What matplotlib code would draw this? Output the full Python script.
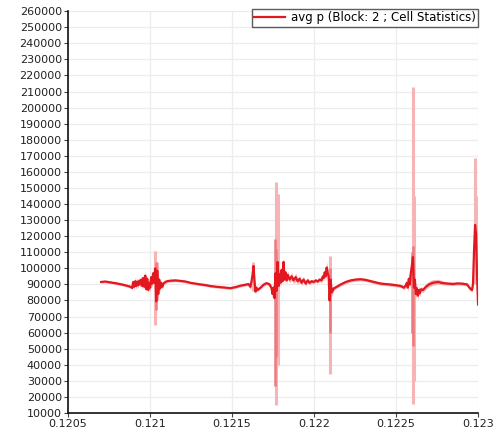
import numpy as np
import matplotlib.pyplot as plt

# cell statistics for block 2: time [s] and average pressure [Pa]
t = [0.120702, 0.120726, 0.120757, 0.120787, 0.120818, 0.120848, 0.120879, 0.120891,
     0.120897, 0.120903, 0.120910, 0.120916, 0.120922, 0.120928, 0.120934, 0.120940,
     0.120946, 0.120952, 0.120958, 0.120965, 0.120971, 0.120977, 0.120983, 0.120989,
     0.120995, 0.121001, 0.121007, 0.121013, 0.121020, 0.121026, 0.121032, 0.121038,
     0.121044, 0.121050, 0.121056, 0.121062, 0.121068, 0.121075, 0.121081, 0.121093,
     0.121105, 0.121123, 0.121154, 0.121185, 0.121215, 0.121246, 0.121276, 0.121307,
     0.121337, 0.121368, 0.121399, 0.121429, 0.121460, 0.121490, 0.121521, 0.121551,
     0.121582, 0.121600, 0.121612, 0.121619, 0.121625, 0.121631, 0.121637, 0.121643,
     0.121649, 0.121655, 0.121674, 0.121692, 0.121710, 0.121729, 0.121741, 0.121747,
     0.121753, 0.121759, 0.121765, 0.121771, 0.121778, 0.121784, 0.121790, 0.121796,
     0.121802, 0.121808, 0.121814, 0.121820, 0.121826, 0.121833, 0.121839, 0.121851,
     0.121863, 0.121875, 0.121888, 0.121900, 0.121912, 0.121924, 0.121936, 0.121949,
     0.121961, 0.121973, 0.121985, 0.121998, 0.122010, 0.122022, 0.122034, 0.122046,
     0.122053, 0.122059, 0.122065, 0.122071, 0.122077, 0.122083, 0.122089, 0.122095,
     0.122101, 0.122108, 0.122120, 0.122138, 0.122163, 0.122193, 0.122224, 0.122254,
     0.122285, 0.122315, 0.122346, 0.122377, 0.122407, 0.122438, 0.122468, 0.122499,
     0.122529, 0.122548, 0.122560, 0.122566, 0.122572, 0.122578, 0.122584, 0.122590,
     0.122597, 0.122603, 0.122609, 0.122615, 0.122621, 0.122627, 0.122633, 0.122639,
     0.122645, 0.122652, 0.122664, 0.122682, 0.122701, 0.122725, 0.122756, 0.122786,
     0.122817, 0.122847, 0.122878, 0.122908, 0.122933, 0.122951, 0.122963, 0.122969,
     0.122976, 0.122982, 0.122988, 0.122994, 0.123000]

p_avg = [91500, 91800, 91300, 90800, 90200, 89500, 88600, 87800,
         91500, 88500, 92000, 89000, 91800, 89500, 92300, 90000,
         93000, 89000, 94000, 88500, 95500, 87000, 93500, 86500,
         91000, 88000, 94500, 90500, 97000, 91000, 100000, 79500,
         98500, 84000, 93000, 87500, 91000, 88500, 90500, 91500,
         92000, 92300, 92500, 92200, 91800, 91000, 90500, 90000,
         89600, 89000, 88600, 88300, 88000, 87700, 88300, 89200,
         89800, 90200, 88500, 92000, 96000, 101500, 92000, 85500,
         88000, 86500, 88000, 89800, 90800, 90000, 87500, 84000,
         88000, 81500, 97000, 86000, 104000, 89000, 96500, 91000,
         99000, 92000, 104000, 93000, 97500, 92500, 96000, 93000,
         95000, 92500, 94500, 92000, 93500, 91000, 93000, 90500,
         92500, 91000, 92000, 91500, 92500, 91800, 93000, 92500,
         95000, 94000, 97500, 95000, 100500, 97000, 95000, 80000,
         93000, 85000, 87500, 88500, 90000, 91500, 92500, 93000,
         93200, 92800, 92000, 91200, 90500, 90200, 89900, 89500,
         89000, 88000, 89500, 91000, 88000, 93500, 90000, 97000,
         102000, 107000, 88000, 93000, 84000, 87500, 83000, 86500,
         84500, 87000, 86500, 88500, 90000, 91000, 91500, 90800,
         90500, 90300, 90600, 90400, 90000, 87500, 86500, 90000,
         112000, 127000, 121000, 95000, 77500]

# min / max envelope around the average
p_min = [90800, 91000, 90500, 90000, 89400, 88700, 87800, 86800,
         89500, 86500, 89500, 87000, 89500, 87500, 90000, 88000,
         90500, 87000, 91000, 86500, 92000, 85000, 90500, 84500,
         88500, 85500, 91000, 88000, 93000, 88000, 95000, 76000,
         94000, 81000, 90000, 85500, 89000, 87000, 89500, 90500,
         91200, 91500, 91700, 91400, 91000, 90200, 89700, 89200,
         88800, 88200, 87800, 87500, 87200, 86900, 87500, 88400,
         89000, 89200, 86500, 89500, 93000, 97000, 88500, 84000,
         86500, 85500, 87000, 88800, 89800, 88800, 85500, 81000,
         84000, 78000, 90000, 82000, 96000, 85500, 92000, 88000,
         95000, 89500, 99000, 90500, 94500, 90500, 93500, 91000,
         92500, 90500, 92000, 90000, 91500, 89500, 91200, 89000,
         90800, 89700, 90800, 90400, 91300, 90800, 91800, 91000,
         93000, 92000, 95000, 92500, 97000, 94000, 91000, 76000,
         89000, 82500, 86300, 87500, 89000, 90500, 91500, 92000,
         92200, 91800, 91000, 90200, 89500, 89200, 88900, 88500,
         88000, 86800, 87500, 89000, 85500, 90500, 87000, 93000,
         97000, 100000, 84000, 89000, 81000, 84500, 80500, 84000,
         82500, 85500, 85000, 87000, 88500, 89500, 90200, 89700,
         89500, 89300, 89600, 89400, 89000, 86300, 85200, 88000,
         105000, 118000, 112000, 88000, 76500]

p_max = [92200, 92600, 92100, 91600, 91000, 90300, 89400, 88800,
         93500, 90500, 94500, 91000, 94000, 91500, 94500, 92000,
         95500, 91000, 96500, 90500, 98500, 89500, 96500, 88500,
         93500, 90500, 97500, 93000, 100500, 94000, 104000, 83000,
         102000, 87500, 96000, 89500, 93000, 90000, 91500, 92500,
         92800, 93100, 93300, 93000, 92600, 91800, 91300, 90800,
         90400, 89800, 89400, 89100, 88800, 88500, 89100, 90000,
         90600, 91200, 90500, 94500, 99000, 104000, 95500, 87500,
         89500, 87500, 89000, 90800, 91800, 91200, 89500, 87000,
         92000, 85000, 103000, 90000, 110000, 92500, 101000, 94000,
         103000, 94500, 107000, 95500, 100500, 94500, 98500, 95000,
         97500, 94500, 97000, 94000, 95500, 93000, 95000, 92000,
         94200, 92300, 93200, 92600, 93700, 92800, 94200, 94000,
         97000, 96500, 100000, 98000, 104000, 100500, 99000, 84000,
         97000, 88000, 88700, 89500, 91000, 92500, 93500, 94000,
         94200, 93800, 93000, 92200, 91500, 91200, 90900, 90500,
         90000, 89200, 91500, 93000, 91000, 97000, 93500, 101000,
         106000, 111000, 92500, 97000, 87000, 90500, 85500, 89000,
         86500, 88500, 88000, 90500, 92000, 93000, 93200, 92200,
         91500, 91300, 91600, 91400, 91000, 88700, 87800, 92000,
         119000, 136000, 130000, 102000, 78500]

# isolated extremes inside the envelope
spike_t = [0.121032, 0.121044, 0.121625, 0.121771, 0.121778, 0.122095,
           0.122603, 0.122609, 0.122982, 0.122988]
spike_lo = [65000, 80000, 86000, 15000, 40000, 34000, 15500, 30000, 90000, 95000]
spike_hi = [111000, 104000, 104000, 154000, 146000, 107500, 212500, 145000, 168500, 145000]

mid_t = [0.121038, 0.121765, 0.121771, 0.122095, 0.122597, 0.122603]
mid_lo = [74000, 27000, 45000, 60000, 60000, 52000]
mid_hi = [104000, 118000, 112000, 100000, 110000, 114000]

dark_red = '#e3171f'
light_red = '#f6b4b6'
mid_red = '#ec7a7e'

plt.rcParams['font.family'] = 'DejaVu Sans'

fig = plt.figure(figsize=(4.94, 4.28), dpi=100)
ax = fig.add_axes([0.1377, 0.035, 0.83, 0.939])

ax.fill_between(t, p_min, p_max, color=light_red, linewidth=0, zorder=2)
ax.vlines(spike_t, spike_lo, spike_hi, color=light_red, linewidth=2.2, zorder=2)
ax.vlines(mid_t, mid_lo, mid_hi, color=mid_red, linewidth=1.8, zorder=3)
ax.plot(t, p_avg, color=dark_red, linewidth=1.6, zorder=4,
        label='avg p (Block: 2 ; Cell Statistics)')

ax.set_xlim(0.1205, 0.123)
ax.set_ylim(10000, 260000)
ax.set_xticks(np.arange(0.1205, 0.12301, 0.0005))
ax.set_xticklabels(['0.1205', '0.121', '0.1215', '0.122', '0.1225', '0.123'])
ax.set_yticks(np.arange(10000, 260001, 10000))
ax.set_yticklabels([str(v) for v in range(10000, 260001, 10000)])

ax.grid(True, color='#ececec', linewidth=0.9, zorder=0)
ax.set_axisbelow(True)
for side in ['top', 'right']:
    ax.spines[side].set_visible(False)
for side in ['left', 'bottom']:
    ax.spines[side].set_linewidth(1.2)
    ax.spines[side].set_color('#111111')
ax.tick_params(axis='both', direction='out', length=3, width=0.8,
               color='#444444', labelsize=8, labelcolor='#222222', pad=1.5)

leg = ax.legend(loc='upper right', bbox_to_anchor=(1.0, 1.005), borderaxespad=0,
                fontsize=8.5, frameon=True, fancybox=False, handlelength=2.6,
                handletextpad=0.5, borderpad=0.2)
leg.get_frame().set_edgecolor('#333333')
leg.get_frame().set_linewidth(1.0)

fig.savefig('out.png', dpi=100)
